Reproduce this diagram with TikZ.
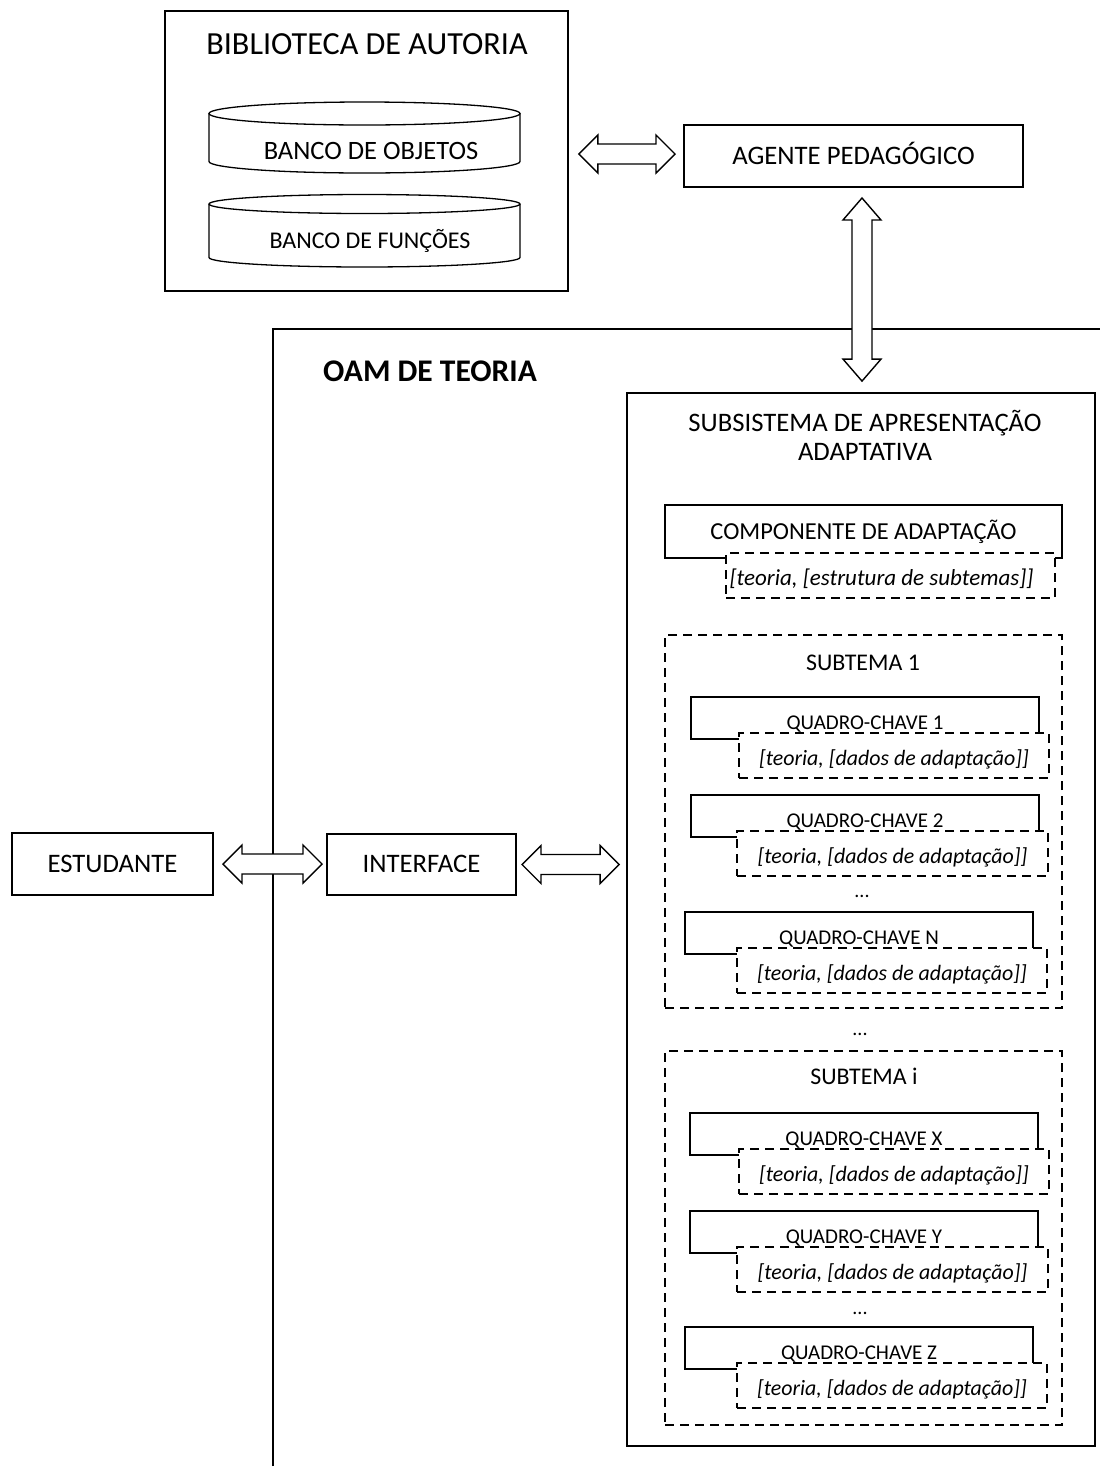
\documentclass[tikz,border=0pt]{standalone}
\usepackage{fontspec}
\setmainfont{Carlito}
\usetikzlibrary{calc}

\tikzset{
  lbl/.style={inner sep=0pt, outer sep=0pt, text depth=0pt},
  fs/.style={lbl, font=\fontsize{#1}{#1}\selectfont, text height={0.63*#1pt}},
  fsi/.style={lbl, font=\itshape\fontsize{#1}{#1}\selectfont, text height={0.63*#1pt}},
  fsb/.style={lbl, font=\bfseries\fontsize{#1}{#1}\selectfont, text height={0.63*#1pt}},
  fbig/.style={fs=26.7},
  ftitle/.style={fs=32.2},
  fmid/.style={fs=24.4},
  fobj/.style={fs=26.5},
  ffun/.style={fs=24},
  fsub/.style={fs=23.9},
  qlabel/.style={fs=21},
  qdata/.style={fsi=21.9},
  cdata/.style={fsi=23},
  oam/.style={fsb=31.5},
  dots/.style={inner sep=0pt, anchor=base, font=\fontsize{20}{24}\selectfont},
  box/.style={draw, line width=1.8pt, fill=white, inner sep=0pt},
  solidbox/.style={draw, line width=1.7pt, fill=white, inner sep=0pt},
  dashbox/.style={draw, line width=1.6pt, dash pattern=on 9pt off 6pt, fill=white, inner sep=0pt},
  groupbox/.style={draw, line width=1.6pt, dash pattern=on 9pt off 6pt, inner sep=0pt},
  frame/.style={draw, line width=1.5pt},
  cyl/.style={draw, line width=1.3pt},
  hollow/.style={draw, line width=1.4pt, fill=white, line join=miter},
}

% hollow double arrow on one row, between two named points
\newcommand\harrow[2]{%
  \draw[hollow] let \p1=(#1), \p2=(#2) in
    (\x1,\y1) -- (\x1+19pt,\y1+19pt) -- (\x1+19pt,\y1+10pt) -- (\x2-19pt,\y1+10pt)
    -- (\x2-19pt,\y1+19pt) -- (\x2,\y1) -- (\x2-19pt,\y1-19pt) -- (\x2-19pt,\y1-10pt)
    -- (\x1+19pt,\y1-10pt) -- (\x1+19pt,\y1-19pt) -- cycle;}

% hollow double arrow in one column, #1 upper end, #2 lower end
\newcommand\varrow[2]{%
  \draw[hollow] let \p1=(#1), \p2=(#2) in
    (\x1,\y1) -- (\x1+19pt,\y1-22pt) -- (\x1+10pt,\y1-22pt) -- (\x1+10pt,\y2+22pt)
    -- (\x1+19pt,\y2+22pt) -- (\x1,\y2) -- (\x1-19pt,\y2+22pt) -- (\x1-10pt,\y2+22pt)
    -- (\x1-10pt,\y1-22pt) -- (\x1-19pt,\y1-22pt) -- cycle;}

% database cylinder: left x, right x, top centre y, bottom centre y, end radius
\newcommand\dbcyl[5]{%
  \draw[cyl] (#1,#3) -- (#1,#4)
    arc[start angle=180, end angle=360, x radius={(#2-#1)/2*1pt}, y radius=#5pt] -- (#2,#3);
  \draw[cyl] ({(#1+#2)/2},#3) ellipse[x radius={(#2-#1)/2*1pt}, y radius=#5pt];}

% key frame: name, solid left, solid top, solid right, data left, data right, label
\newcommand\quadro[7]{%
  \node[solidbox, minimum width={#4-#2}, minimum height=42] (#1) at ({(#2+#4)/2},{#3+21}) {};
  \node[qlabel] (#1-t) at ({(#2+#4)/2},{#3+25.5}) {#7};
  \node[dashbox, minimum width={#6-#5}, minimum height=45] (#1-d) at ({(#5+#6)/2},{#3+36+22.5}) {};
  \node[qdata] (#1-dt) at ({(#5+#6)/2},{#3+36+25.5}) {[teoria, [dados de adaptação]]};}

\begin{document}
\begin{tikzpicture}[x=1pt, y=-1pt]
\useasboundingbox (0,0) rectangle (1100,1468);
\fill[white] (0,0) rectangle (1100,1468);

% authoring library
\node[box, minimum width=403, minimum height=280] (bib) at (366.5,151) {};
\node[ftitle] (bibt) at (367,44) {BIBLIOTECA DE AUTORIA};
\dbcyl{209}{520}{113.5}{161.5}{11.5}
\node[fobj] (objs) at (371,151) {BANCO DE OBJETOS};
\dbcyl{209}{520}{204}{257.5}{9.5}
\node[ffun] (funcs) at (370,241) {BANCO DE FUNÇÕES};

% pedagogical agent
\node[box, fbig, minimum width=339, minimum height=62] (agent) at (853.5,156) {AGENTE PEDAGÓGICO};

% OAM frame
\draw[frame] (273,1466) -- (273,329) -- (1100,329);
\node[oam] (oamt) at (430,372) {OAM DE TEORIA};

% student and interface
\node[box, fbig, minimum width=201, minimum height=62] (est) at (112.5,864) {ESTUDANTE};
\node[box, fbig, minimum width=189, minimum height=61] (inter) at (421.5,864.5) {INTERFACE};

% adaptive presentation subsystem
\node[box, minimum width=468, minimum height=1053] (sub) at (861,919.5) {};
\node[fbig] (subt1) at (865,423) {SUBSISTEMA DE APRESENTAÇÃO};
\node[fbig] (subt2) at (865,452) {ADAPTATIVA};

\node[solidbox, fmid, minimum width=397, minimum height=53] (comp) at (863.5,531.5) {COMPONENTE DE ADAPTAÇÃO};
\node[dashbox, minimum width=329, minimum height=45] (compd) at (890.5,575.5) {};
\node[cdata] (compdt) at (881.5,578) {[teoria, [estrutura de subtemas]]};

% subtopic 1
\node[groupbox, minimum width=397, minimum height=373] (st1) at (863.5,821.5) {};
\node[fsub] (st1t) at (863,663) {SUBTEMA 1};
\quadro{q1}{691}{697}{1039}{739}{1049}{QUADRO-CHAVE 1}
\quadro{q2}{691}{795}{1039}{737}{1048}{QUADRO-CHAVE 2}
\node[dots] (d1) at (862,897) {...};
\quadro{qn}{685}{912}{1033}{737}{1047}{QUADRO-CHAVE N}

\node[dots] (d2) at (860,1035) {...};

% subtopic i
\node[groupbox, minimum width=397, minimum height=374] (sti) at (863.5,1238) {};
\node[fsub] (stit) at (864,1077) {SUBTEMA i};
\quadro{qx}{690}{1113}{1038}{739}{1049}{QUADRO-CHAVE X}
\quadro{qy}{690}{1211}{1038}{737}{1048}{QUADRO-CHAVE Y}
\node[dots] (d3) at (860,1314) {...};
\quadro{qz}{685}{1327}{1033}{737}{1047}{QUADRO-CHAVE Z}

% connectors
\coordinate (a1s) at ($(bib.east |- agent.west)+(10pt,2pt)$);
\coordinate (a1e) at ($(agent.west)+(-9pt,2pt)$);
\coordinate (a2s) at ($(est.east)+(10pt,0pt)$);
\coordinate (a2e) at ($(est.east -| inter.west)+(-5pt,0pt)$);
\coordinate (a3s) at ($(inter.east)+(6pt,0pt)$);
\coordinate (a3e) at ($(inter.east -| sub.west)+(-7pt,0pt)$);
\coordinate (a4s) at ($(agent.south -| sub.north)+(1pt,-11pt)$);
\coordinate (a4e) at ($(sub.north)+(1pt,11pt)$);
\harrow{a1s}{a1e}
\harrow{a2s}{a2e}
\harrow{a3s}{a3e}
\varrow{a4s}{a4e}
\end{tikzpicture}
\end{document}
